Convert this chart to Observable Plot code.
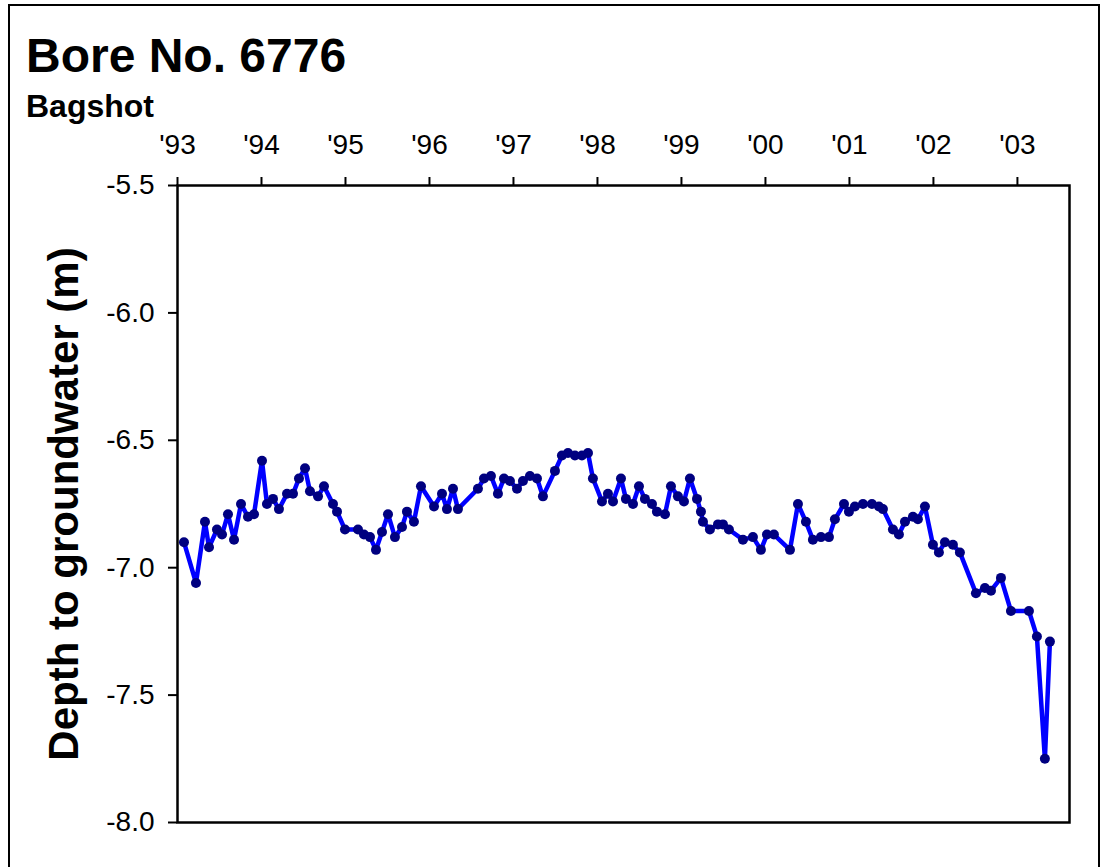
<!DOCTYPE html>
<html>
<head>
<meta charset="utf-8">
<script src="https://cdn.jsdelivr.net/npm/d3@7"></script>
<script src="https://cdn.jsdelivr.net/npm/@observablehq/plot@0.6"></script>
<style>
  html, body { margin: 0; padding: 0; width: 1102px; height: 867px; overflow: hidden; background: #fff;
    font-family: "Liberation Sans", Arial, Helvetica, sans-serif; }
  #border { position: absolute; left: 8px; top: 4px; width: 1092px; height: 900px; border: 2px solid #000; box-sizing: border-box; }
  #chart { position: absolute; left: 0; top: 0; }
  #title { position: absolute; left: 26px; top: 32px; font-size: 48px; font-weight: bold; line-height: 1; color: #000; white-space: nowrap; }
  #subtitle { position: absolute; left: 26px; top: 90px; font-size: 32px; font-weight: bold; line-height: 1; color: #000; white-space: nowrap; }
</style>
</head>
<body>
<div id="border"></div>
<div id="chart"></div>
<div id="title"></div>
<div id="subtitle"></div>
<script>
const titleText = "Bore No. 6776";
const subtitleText = "Bagshot";
const yLabel = "Depth to groundwater (m)";

// decimal years of each reading
const years = [
  1993.077, 1993.220, 1993.327, 1993.375, 1993.470, 1993.530, 1993.601, 1993.673, 1993.756, 1993.839,
  1993.911, 1994.006, 1994.065, 1994.137, 1994.208, 1994.304, 1994.375, 1994.446, 1994.518, 1994.577,
  1994.673, 1994.744, 1994.851, 1994.899, 1994.994, 1995.149, 1995.220, 1995.292, 1995.363, 1995.435,
  1995.506, 1995.589, 1995.673, 1995.732, 1995.815, 1995.899, 1996.054, 1996.149, 1996.208, 1996.280,
  1996.339, 1996.577, 1996.649, 1996.732, 1996.815, 1996.887, 1996.958, 1997.042, 1997.113, 1997.196,
  1997.280, 1997.351, 1997.494, 1997.577, 1997.649, 1997.732, 1997.815, 1997.887, 1997.946, 1998.054,
  1998.125, 1998.185, 1998.280, 1998.339, 1998.423, 1998.494, 1998.565, 1998.649, 1998.708, 1998.804,
  1998.875, 1998.958, 1999.030, 1999.101, 1999.185, 1999.232, 1999.256, 1999.339, 1999.435, 1999.494,
  1999.565, 1999.732, 1999.851, 1999.946, 2000.018, 2000.101, 2000.292, 2000.387, 2000.482, 2000.565,
  2000.661, 2000.756, 2000.827, 2000.935, 2000.994, 2001.065, 2001.161, 2001.268, 2001.351, 2001.399,
  2001.518, 2001.589, 2001.661, 2001.756, 2001.815, 2001.899, 2001.994, 2002.065, 2002.137, 2002.232,
  2002.315, 2002.506, 2002.613, 2002.685, 2002.804, 2002.923, 2003.137, 2003.232, 2003.327, 2003.387
];

// depth to groundwater (m)
const depths = [
  -6.90, -7.06, -6.82, -6.92, -6.85, -6.87, -6.79, -6.89, -6.75, -6.80,
  -6.79, -6.58, -6.75, -6.73, -6.77, -6.71, -6.71, -6.65, -6.61, -6.70,
  -6.72, -6.68, -6.75, -6.78, -6.85, -6.85, -6.87, -6.88, -6.93, -6.86,
  -6.79, -6.88, -6.84, -6.78, -6.82, -6.68, -6.76, -6.71, -6.77, -6.69,
  -6.77, -6.69, -6.65, -6.64, -6.71, -6.65, -6.66, -6.69, -6.66, -6.64,
  -6.65, -6.72, -6.62, -6.56, -6.55, -6.56, -6.56, -6.55, -6.65, -6.74,
  -6.71, -6.74, -6.65, -6.73, -6.75, -6.68, -6.73, -6.75, -6.78, -6.79,
  -6.68, -6.72, -6.74, -6.65, -6.73, -6.78, -6.82, -6.85, -6.83, -6.83,
  -6.85, -6.89, -6.88, -6.93, -6.87, -6.87, -6.93, -6.75, -6.82, -6.89,
  -6.88, -6.88, -6.81, -6.75, -6.78, -6.76, -6.75, -6.75, -6.76, -6.77,
  -6.85, -6.87, -6.82, -6.80, -6.81, -6.76, -6.91, -6.94, -6.90, -6.91,
  -6.94, -7.10, -7.08, -7.09, -7.04, -7.17, -7.17, -7.27, -7.75, -7.29
];

const xTicks = [1993, 1994, 1995, 1996, 1997, 1998, 1999, 2000, 2001, 2002, 2003];
const xTickLabels = ["'93", "'94", "'95", "'96", "'97", "'98", "'99", "'00", "'01", "'02", "'03"];
const yTicks = [-5.5, -6.0, -6.5, -7.0, -7.5, -8.0];
const yTickLabels = ["-5.5", "-6.0", "-6.5", "-7.0", "-7.5", "-8.0"];

const data = years.map((t, i) => ({t, d: depths[i]}));

document.getElementById("title").textContent = titleText;
document.getElementById("subtitle").textContent = subtitleText;

const chart = Plot.plot({
  width: 1102,
  height: 867,
  marginLeft: 177,
  marginRight: 33,
  marginTop: 185,
  marginBottom: 45,
  style: {background: "transparent", fontFamily: "'Liberation Sans', Arial, Helvetica, sans-serif", fontSize: "28px", color: "#000"},
  x: {domain: [1993, 2003.62]},
  y: {domain: [-8.0, -5.5]},
  marks: [
    Plot.axisX({anchor: "top", ticks: xTicks, tickFormat: (d) => xTickLabels[xTicks.indexOf(d)], tickSize: 9, tickPadding: 23, strokeWidth: 2, label: null}),
    Plot.axisY({anchor: "left", ticks: yTicks, tickFormat: (d) => yTickLabels[yTicks.indexOf(d)], tickSize: 9, tickPadding: 14, strokeWidth: 2, label: null}),
    Plot.text([yLabel], {text: (d) => d, frameAnchor: "left", textAnchor: "middle", rotate: -90, dx: -113, fontSize: 42, fontWeight: "bold", fill: "#000"}),
    Plot.line(data, {x: "t", y: "d", stroke: "#0000ff", strokeWidth: 4.5, strokeLinejoin: "round"}),
    Plot.dot(data, {x: "t", y: "d", r: 5, fill: "#000080", stroke: "none"}),
    Plot.frame({stroke: "#000", strokeWidth: 2.5})
  ]
});
document.getElementById("chart").appendChild(chart);
</script>
</body>
</html>
